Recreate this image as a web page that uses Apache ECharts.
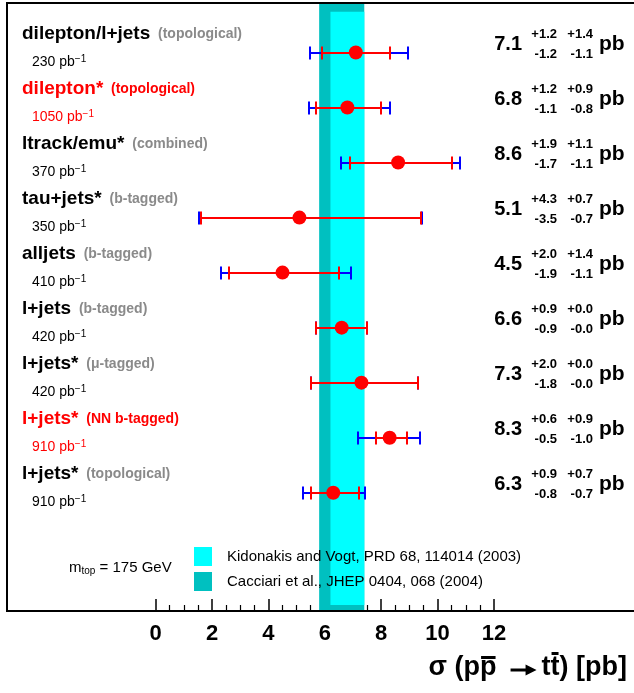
<!DOCTYPE html>
<html><head><meta charset="utf-8">
<script src="https://cdn.jsdelivr.net/npm/echarts@6/dist/echarts.min.js"></script>
<style>html,body{margin:0;padding:0;background:#fff}#c{width:634px;height:693px}</style>
</head><body><div id="c"></div>
<script>
// ---- data ----
const names   = ['dilepton/l+jets','dilepton*','ltrack/emu*','tau+jets*','alljets','l+jets','l+jets*','l+jets*','l+jets*'];
const methods = ['(topological)','(topological)','(combined)','(b-tagged)','(b-tagged)','(b-tagged)','(\u03bc-tagged)','(NN b-tagged)','(topological)'];
const lumis   = [230,1050,370,350,410,420,420,910,910];
const highlight = [false,true,false,false,false,false,false,true,false];
const xsec   = [7.1,6.8,8.6,5.1,4.5,6.6,7.3,8.3,6.3];
const statUp = [1.2,1.2,1.9,4.3,2.0,0.9,2.0,0.6,0.9];
const statDn = [1.2,1.1,1.7,3.5,1.9,0.9,1.8,0.5,0.8];
const systUp = [1.4,0.9,1.1,0.7,1.4,0.0,0.0,0.9,0.7];
const systDn = [1.1,0.8,1.1,0.7,1.1,0.0,0.0,1.0,0.7];
const xTicks = [0,2,4,6,8,10,12];
const bandNames = ['Kidonakis and Vogt, PRD 68, 114014 (2003)','Cacciari et al., JHEP 0404, 068 (2004)'];
const bandLo = [6.2,5.8];
const bandHi = [7.4,7.4];
const massLabel = 175;

// ---- chart ----
const FONT = '"Liberation Sans", Arial, Helvetica, sans-serif';
const Y_MIN = 0.1, Y_MAX = 11.15;
const PX_PER_UNIT = 28.2, X0_PX = 155.6, FRAME_L = 7, FRAME_T = 3, FRAME_B = 611, W = 634;
const X_MIN = -(X0_PX - FRAME_L) / PX_PER_UNIT;
const X_MAX = X_MIN + (W - FRAME_L) / PX_PER_UNIT;
const chart = echarts.init(document.getElementById('c'), null, {renderer:'canvas'});

function bandSeries(k, color, yLo, yHi, z){
  return {
    type:'custom', name:bandNames[k], silent:true, z:z,
    itemStyle:{color:color},
    data:[[bandLo[k], bandHi[k]]],
    encode:{x:[0,1]},
    renderItem:function(p, api){
      const a = api.coord([api.value(0), yLo]);
      const b = api.coord([api.value(1), yHi]);
      return {type:'rect', shape:{x:a[0], y:a[1], width:b[0]-a[0], height:b[1]-a[1]}, style:{fill:color}};
    }
  };
}

function ln(x1,y1,x2,y2,c,w){
  return {type:'line', shape:{x1:x1,y1:y1,x2:x2,y2:y2}, style:{stroke:c, lineWidth:w}};
}
function txt(x,y,text,font,fill,align){
  return {type:'text', style:{x:x,y:y,text:text,font:font,fill:fill,align:align||'left',verticalAlign:'middle'}};
}

function renderRow(params, api){
  const i = params.dataIndex;
  const v = api.value(0), r = api.value(1);
  const tUp = Math.sqrt(statUp[i]*statUp[i] + systUp[i]*systUp[i]);
  const tDn = Math.sqrt(statDn[i]*statDn[i] + systDn[i]*systDn[i]);
  const t0 = api.coord([v - tDn, r]), t1 = api.coord([v + tUp, r]);
  const s0 = api.coord([v - statDn[i], r]), s1 = api.coord([v + statUp[i], r]);
  const y = Math.round(s0[1]), h = 6.5;
  const blue = '#0000ff', red = '#ff0000';
  const col = highlight[i] ? '#ff0000' : '#000000';
  const pcol = highlight[i] ? '#ff0000' : '#8a8a8a';
  const X = function(p){ return Math.round(p[0]); };
  const ch = [
    ln(X(t0),y,X(t1),y,blue,2), ln(X(t0),y-h,X(t0),y+h,blue,2), ln(X(t1),y-h,X(t1),y+h,blue,2),
    ln(X(s0),y,X(s1),y,red,2), ln(X(s0),y-h,X(s0),y+h,red,2), ln(X(s1),y-h,X(s1),y+h,red,2)
  ];
  // left labels
  ch.push({type:'text', style:{x:22, y:y-19, verticalAlign:'middle',
    text:'{a|'+names[i]+'}{b|  '+methods[i]+'}',
    rich:{a:{fontSize:19, fontWeight:'bold', fontFamily:FONT, fill:col, lineHeight:22},
          b:{fontSize:14, fontWeight:'bold', fontFamily:FONT, fill:pcol, lineHeight:22}}}});
  ch.push({type:'text', style:{x:32, y:y+9, verticalAlign:'middle',
    text:'{n|'+lumis[i]+' pb}{s|\u22121}',
    rich:{n:{fontSize:14, fontFamily:FONT, fill:col, lineHeight:16},
          s:{fontSize:10, fontFamily:FONT, fill:col, lineHeight:4, verticalAlign:'top'}}}});
  // right labels
  ch.push(txt(522, y-9, xsec[i].toFixed(1), 'bold 20px '+FONT, '#000', 'right'));
  ch.push(txt(557, y-19, '+'+statUp[i].toFixed(1), 'bold 13px '+FONT, '#000', 'right'));
  ch.push(txt(593, y-19, '+'+systUp[i].toFixed(1), 'bold 13px '+FONT, '#000', 'right'));
  ch.push(txt(557, y+1, '-'+statDn[i].toFixed(1), 'bold 13px '+FONT, '#000', 'right'));
  ch.push(txt(593, y+1, '-'+systDn[i].toFixed(1), 'bold 13px '+FONT, '#000', 'right'));
  ch.push(txt(599, y-9, 'pb', 'bold 21px '+FONT, '#000', 'left'));
  return {type:'group', children:ch};
}

// axis title built from pieces, with bars over the anti-quark symbols and a drawn arrow
function buildTitle(){
  const cv = document.createElement('canvas').getContext('2d');
  const F = 'bold 27px ' + FONT;
  const parts = [
    {t:'\u03c3 (p'}, {t:'p', bar:-9}, {gap:14}, {arrow:26}, {gap:5},
    {t:'t'}, {t:'t', bar:-13}, {t:') [pb]'}
  ];
  let total = 0;
  cv.font = F;
  parts.forEach(function(p){
    p.w = p.t !== undefined ? cv.measureText(p.t).width : (p.gap || p.arrow);
    total += p.w;
  });
  let x = 627 - total; const yc = 668;
  const els = [];
  parts.forEach(function(p){
    if (p.t !== undefined) {
      els.push({type:'text', x:x, y:yc, style:{text:p.t, font:F, fill:'#000', align:'left', verticalAlign:'middle'}});
      if (p.bar !== undefined) {
        els.push({type:'rect', shape:{x:x+1, y:yc+p.bar-3, width:p.w-2, height:3}, style:{fill:'#000'}});
      }
    } else if (p.arrow) {
      const ya = yc + 2;
      els.push({type:'rect', shape:{x:x, y:ya-1.5, width:p.w-8, height:3}, style:{fill:'#000'}});
      els.push({type:'polygon', shape:{points:[[x+p.w-11, ya-5.5],[x+p.w, ya],[x+p.w-11, ya+5.5]]}, style:{fill:'#000'}});
    }
    x += p.w;
  });
  return els;
}

const rowData = xsec.map(function(v,i){ return [v, i+1]; });

const option = {
  animation:false,
  backgroundColor:'#ffffff',
  grid:[
    {left:FRAME_L, right:0, top:FRAME_T, bottom:693-FRAME_B, show:false},
    {left:X0_PX, width:12*PX_PER_UNIT, bottom:693-FRAME_B, height:1}
  ],
  xAxis:[
    {gridIndex:0, type:'value', min:X_MIN, max:X_MAX, show:false},
    {gridIndex:1, type:'value', min:xTicks[0], max:xTicks[xTicks.length-1], interval:2,
     axisLine:{show:false}, splitLine:{show:false},
     axisTick:{show:true, inside:true, length:12, lineStyle:{color:'#000', width:1.5}},
     minorTick:{show:true, splitNumber:4, length:6, lineStyle:{color:'#000', width:1.2}},
     minorSplitLine:{show:false},
     axisLabel:{margin:12, fontSize:22, fontWeight:'bold', color:'#000', fontFamily:FONT}}
  ],
  yAxis:[
    {gridIndex:0, type:'value', inverse:true, min:Y_MIN, max:Y_MAX, show:false},
    {gridIndex:1, type:'value', show:false}
  ],
  legend:{data:bandNames, orient:'vertical', left:194, top:547, itemWidth:18, itemHeight:19, itemGap:6,
    icon:'rect', selectedMode:false, padding:0,
    textStyle:{fontSize:15, color:'#000', fontFamily:FONT, padding:[0,0,0,10]}},
  graphic:[
    {type:'polyline', z:20, shape:{points:[[W+2,FRAME_T],[FRAME_L,FRAME_T],[FRAME_L,FRAME_B],[W+2,FRAME_B]]},
     style:{stroke:'#000', lineWidth:2, fill:null}},
    {type:'text', left:69, top:560, style:{text:'{m|m}{s|top}{m| = '+massLabel+' GeV}',
      rich:{m:{fontSize:15, fontFamily:FONT, fill:'#000', lineHeight:18},
            s:{fontSize:10, fontFamily:FONT, fill:'#000', lineHeight:4, verticalAlign:'bottom'}}}},
    {type:'group', children:buildTitle()}
  ],
  series:[
    bandSeries(1, '#00c0c0', Y_MIN, Y_MAX, 1),
    bandSeries(0, '#00ffff', 0.26, 11.04, 2),
    {type:'custom', name:'rows', xAxisIndex:0, yAxisIndex:0, data:rowData, encode:{x:0, y:1},
     renderItem:renderRow, z:3, silent:true},
    {type:'scatter', xAxisIndex:0, yAxisIndex:0, data:rowData, symbol:'circle', symbolSize:14,
     itemStyle:{color:'#ff0000', opacity:1}, z:5, silent:true}
  ]
};
chart.setOption(option);
</script></body></html>
